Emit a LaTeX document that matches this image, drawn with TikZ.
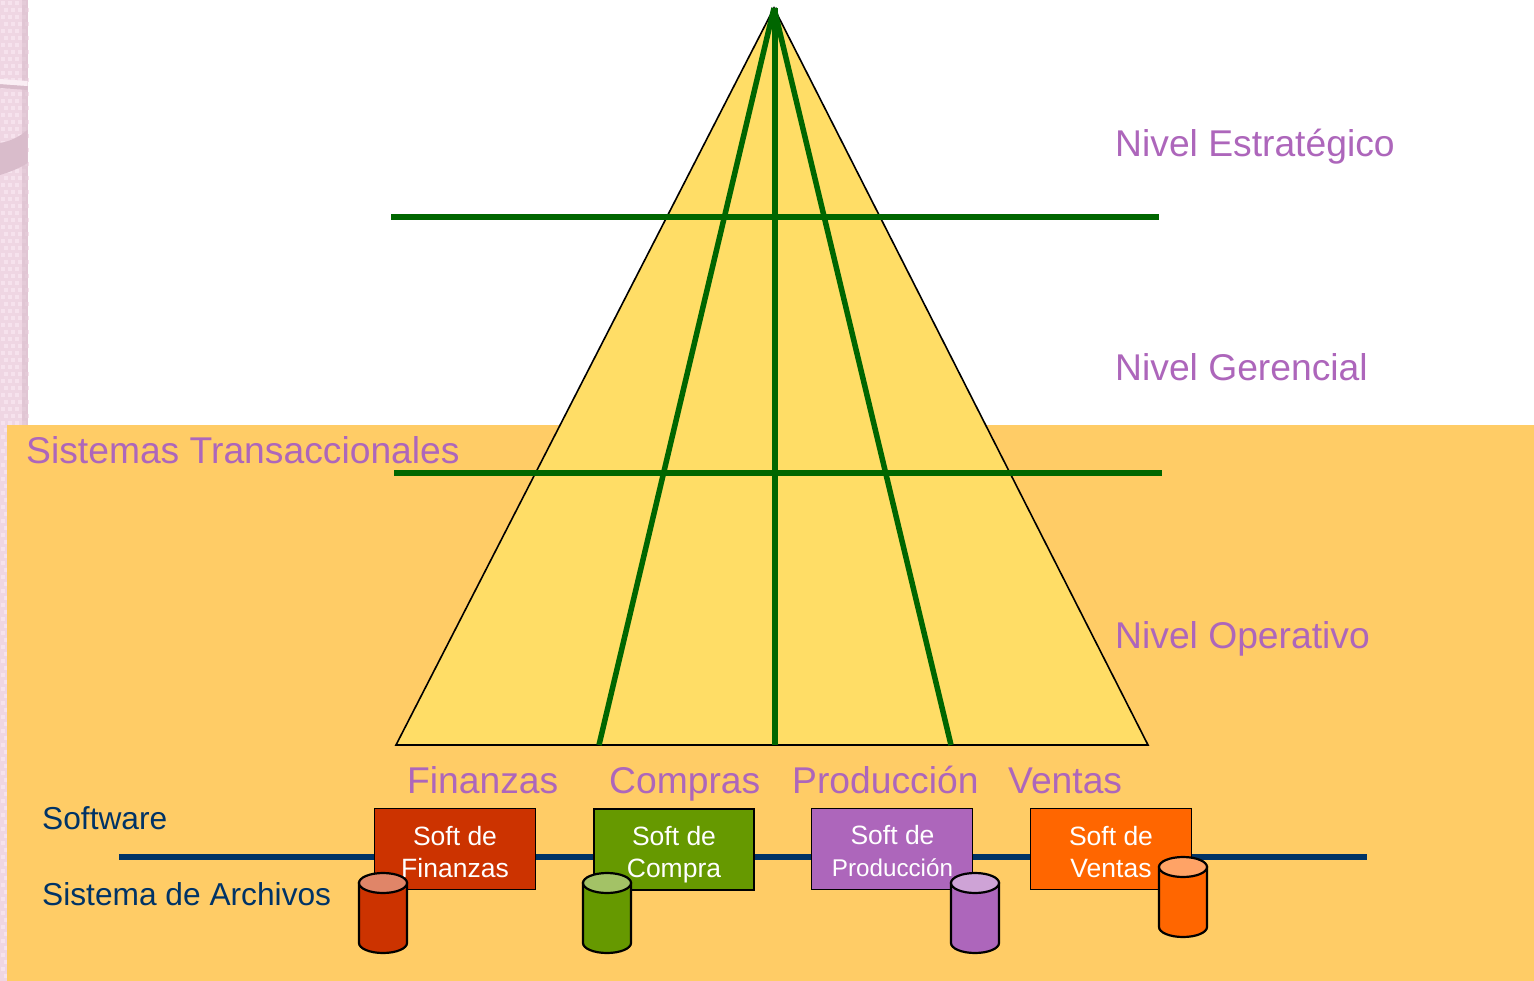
\documentclass[tikz,border=0pt]{standalone}
\usepackage{fontspec}
\setmainfont{Liberation Sans}
\definecolor{gold}{HTML}{FFCC66}
\definecolor{pyr}{HTML}{FFDD66}
\definecolor{grn}{HTML}{006600}
\definecolor{navy}{HTML}{003366}
\definecolor{lila}{HTML}{AD66BB}
\definecolor{cred}{HTML}{CC3300}
\definecolor{cgreen}{HTML}{669900}
\definecolor{corange}{HTML}{FF6600}
\definecolor{credtop}{HTML}{E08568}
\definecolor{cgreentop}{HTML}{A3C266}
\definecolor{lilatop}{HTML}{CEA3D6}
\definecolor{corangetop}{HTML}{FFA366}
\definecolor{pinkbase}{HTML}{EFD6E3}
\definecolor{pinklight}{HTML}{F6E2ED}
\definecolor{pinkdark}{HTML}{D9BCCB}
\tikzset{
  lvl/.style={font=\fontsize{37.25}{37.25}\selectfont,text=lila,anchor=base west,inner sep=0pt},
  dark/.style={font=\fontsize{31.7}{32}\selectfont,text=navy,anchor=base west,inner sep=0pt},
  softbox/.style={draw=black,line width=1pt,minimum width=161,minimum height=81,inner sep=0pt,outer sep=0pt,anchor=north west},
  softtext/.style={font=\fontsize{26.5}{32}\selectfont,text=white,align=center,inner sep=0pt},
  gridline/.style={draw=grn,line width=5.5},
  bus/.style={draw=navy,line width=6},
  drumline/.style={draw=black,line width=2.2},
  pics/drum/.style n args={2}{code={
    \path[drumline,fill=#1] (-24,-30) -- (-24,30) arc[start angle=180,end angle=360,x radius=24,y radius=-10] -- (24,-30) -- cycle;
    \path[drumline,fill=#2] (0,-30) ellipse[x radius=24,y radius=10];
  }},
}
\begin{document}
\begin{tikzpicture}[x=1pt,y=-1pt]
\useasboundingbox (0,0) rectangle (1534,981);
\fill[white] (0,0) rectangle (1534,981);
% decorative strip
\fill[pinkbase] (0,0) rectangle (27.5,981);
\foreach \i in {0,...,3}{\foreach \j in {0,...,70}{
  \fill[pinklight] (0.5+\i*7,1+\j*14) rectangle +(4,4);
  \fill[pinklight] (4+\i*7,8+\j*14) rectangle +(4,4);
}}
\fill[pinkdark,opacity=.6] (22,0) rectangle (27.5,981);
\fill[pinkdark] (0,143) .. controls (12,141) and (20,136) .. (27.5,130) -- (27.5,163) .. controls (20,168) and (10,172) .. (0,175) -- cycle;
\fill[pinkdark] (0,84) -- (27.5,86) -- (27.5,90) -- (0,88) -- cycle;
\fill[pinklight!60!white] (0,79) -- (27.5,81) -- (27.5,86) -- (0,84) -- cycle;
% background panel
\fill[gold] (7,425) rectangle (1534,981);
% pyramid
\coordinate (apex) at (774,8);
\coordinate (apexc) at (775,8);
\coordinate (bl) at (396,745);
\coordinate (br) at (1148,745);
\coordinate (b1) at (599,745);
\coordinate (b2) at (775,745);
\coordinate (b3) at (951,745);
\filldraw[fill=pyr,draw=black,line width=1.6] (apex) -- (br) -- (bl) -- cycle;
\coordinate (h1a) at (391,217); \coordinate (h1b) at (1159,217);
\coordinate (h2a) at (394,473); \coordinate (h2b) at (1162,473);
\draw[gridline] (h1a) -- (h1b);
\draw[gridline] (h2a) -- (h2b);
\draw[gridline] (apex) -- (b1);
\draw[gridline] (apexc) -- (b2);
\draw[gridline] (apex) -- (b3);
% levels
\node[lvl] (n1) at (1115,156.5) {Nivel Estratégico};
\node[lvl] (n2) at (1115,380.5) {Nivel Gerencial};
\node[lvl] (n3) at (1115,648) {Nivel Operativo};
\node[lvl] (st) at (26,463) {Sistemas Transaccionales};
\node[lvl] (a1) at (407,793) {Finanzas};
\node[lvl] (a2) at (609,793) {Compras};
\node[lvl] (a3) at (792,793) {Producción};
\node[lvl] (a4) at (1008,793) {Ventas};
\node[dark] (sw) at (42,829) {Software};
\node[dark] (sa) at (42,905) {Sistema de Archivos};
% bus
\coordinate (busa) at (119,857); \coordinate (busb) at (1367,857);
\draw[bus] (busa) -- (busb);
% boxes
\node[softbox,fill=cred] (s1) at (374.5,808.5) {};
\node[softbox,fill=cgreen,line width=2,minimum width=160] (s2) at (593.5,808.5) {};
\node[softbox,fill=lila] (s3) at (811.5,808.5) {};
\node[softbox,fill=corange] (s4) at (1030.5,808.5) {};
\node[softtext] (t1) at (455,852) {Soft de\\Finanzas};
\node[softtext] (t2) at (674,855) {Soft de\\Compra};
\node[softtext] (t3) at (892.5,851) {Soft de\\{\fontsize{24.2}{30}\selectfont Producción}};
\node[softtext] (t4) at (1111,852) {Soft de\\Ventas};
% drums
\pic at (383,913) {drum={cred}{credtop}};
\pic at (607,913) {drum={cgreen}{cgreentop}};
\pic at (975,913) {drum={lila}{lilatop}};
\pic at (1183,897) {drum={corange}{corangetop}};
\end{tikzpicture}
\end{document}
